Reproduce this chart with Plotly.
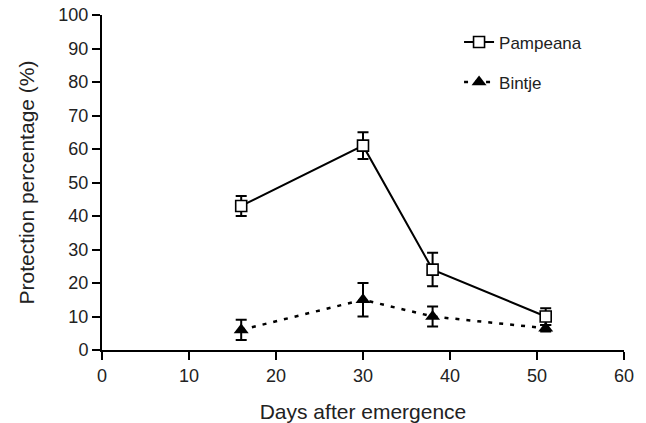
import plotly.graph_objects as go

days = [16, 30, 38, 51]
pampeana = [43, 61, 24, 10]
pampeana_err = [3, 4, 5, 2.5]
bintje = [6, 15, 10, 6.5]
bintje_err = [3, 5, 3, 1]

x_ticks = [0, 10, 20, 30, 40, 50, 60]
y_ticks = [0, 10, 20, 30, 40, 50, 60, 70, 80, 90, 100]

FONT = "Liberation Sans, Arial, Helvetica, sans-serif"

fig = go.Figure()
fig.add_trace(go.Scatter(
    x=days, y=pampeana, name="Pampeana", mode="lines+markers",
    legendgroup="a",
    line=dict(color="black", width=2),
    marker=dict(symbol="square", size=11, color="white",
                line=dict(color="black", width=1.6)),
    error_y=dict(type="data", array=pampeana_err, color="black",
                 thickness=2, width=5.5),
))
fig.add_trace(go.Scatter(
    x=days, y=bintje, name="Bintje", mode="lines+markers",
    legendgroup="b",
    line=dict(color="black", width=2.5, dash="4px,7px"),
    marker=dict(symbol="triangle-up", size=13, color="black",
                line=dict(color="black", width=0)),
    error_y=dict(type="data", array=bintje_err, color="black",
                 thickness=2, width=5.5),
))

axis_common = dict(
    showline=True, linecolor="black", linewidth=2,
    ticks="outside", ticklen=8, tickwidth=2, tickcolor="black",
    showgrid=False, zeroline=False,
    tickfont=dict(family=FONT, size=18, color="#222"),
)

fig.update_xaxes(range=[0, 60], tickvals=x_ticks,
                 title=dict(text="Days after emergence",
                            font=dict(family=FONT, size=21, color="#222"),
                            standoff=20),
                 **axis_common)
fig.update_yaxes(range=[0, 100], tickvals=y_ticks,
                 title=dict(text="Protection percentage (%)",
                            font=dict(family=FONT, size=21, color="#222"),
                            standoff=18),
                 **axis_common)

fig.update_layout(
    width=646, height=423,
    margin=dict(l=102, r=22, t=15, b=73, autoexpand=False),
    paper_bgcolor="white", plot_bgcolor="white",
    showlegend=True,
    legend=dict(x=0.684, y=0.972, xanchor="left", yanchor="top",
                bgcolor="rgba(0,0,0,0)",
                font=dict(family=FONT, size=17, color="#222"),
                tracegroupgap=15),
)

fig.write_html("out.html",
               config={"displayModeBar": False},
               post_script="document.body.style.margin='0px';document.body.style.padding='0px';")
